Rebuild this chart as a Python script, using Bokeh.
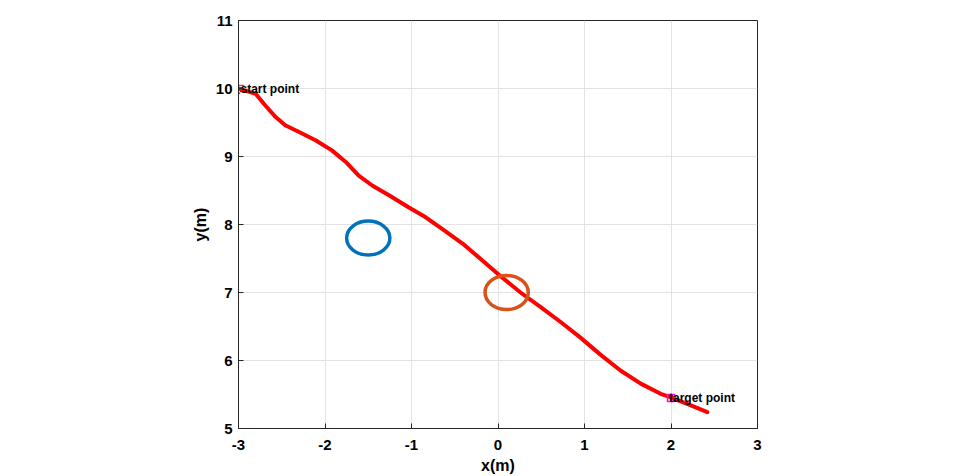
from bokeh.plotting import figure
from bokeh.models import Range1d, FixedTicker
from bokeh.core.properties import value
from bokeh.embed import file_html
from bokeh.resources import INLINE

# trajectory
path_x = [-3.00, -2.80, -2.69, -2.57, -2.46, -2.30, -2.11, -1.92, -1.76, -1.61, -1.45,
          -1.26, -1.03, -0.84, -0.65, -0.41, -0.16, 0.03, 0.26, 0.49, 0.72, 0.95,
          1.18, 1.42, 1.65, 1.88, 1.99, 2.23, 2.42]
path_y = [10.00, 9.92, 9.75, 9.58, 9.46, 9.36, 9.24, 9.09, 8.92, 8.72, 8.57,
          8.43, 8.25, 8.11, 7.94, 7.72, 7.45, 7.24, 7.00, 6.79, 6.57, 6.34,
          6.09, 5.85, 5.66, 5.51, 5.46, 5.34, 5.24]

# obstacles
obs_x = [-1.5, 0.1]
obs_y = [7.8, 7.0]
obs_r = [0.25, 0.25]
obs_colors = ["#0072BD", "#D95319"]

start = (-3.0, 10.0)
target = (2.0, 5.45)
start_label = "start point"
target_label = "target point"

x_ticks = [-3, -2, -1, 0, 1, 2, 3]
y_ticks = [5, 6, 7, 8, 9, 10, 11]

p = figure(width=955, height=476, output_backend="svg", toolbar_location=None,
           x_range=Range1d(-3, 3), y_range=Range1d(5, 11),
           min_border_left=238, min_border_right=198, min_border_top=20,
           min_border_bottom=48)

p.outline_line_color = "#262626"
p.outline_line_width = 1
p.background_fill_color = "white"
p.border_fill_color = "white"

for ax in (p.xaxis[0], p.yaxis[0]):
    ax.major_label_text_font = "Liberation Sans"
    ax.major_label_text_font_style = "bold"
    ax.major_label_text_font_size = "15px"
    ax.major_label_text_color = "black"
    ax.axis_label_text_font = "Liberation Sans"
    ax.axis_label_text_font_style = "bold"
    ax.axis_label_text_font_size = "16px"
    ax.axis_label_text_color = "black"
    ax.major_tick_in = 5
    ax.major_tick_out = 0
    ax.minor_tick_line_color = None
    ax.axis_line_color = "#262626"
    ax.major_tick_line_color = "#262626"

p.xaxis[0].ticker = FixedTicker(ticks=x_ticks)
p.yaxis[0].ticker = FixedTicker(ticks=y_ticks)
p.xaxis[0].major_label_overrides = {t: str(t) for t in x_ticks}
p.yaxis[0].major_label_overrides = {t: str(t) for t in y_ticks}
p.xaxis[0].major_label_standoff = 11
p.yaxis[0].major_label_standoff = 6
p.xaxis[0].axis_label_standoff = 4
p.yaxis[0].axis_label_standoff = 4
p.xaxis.axis_label = "x(m)"
p.yaxis.axis_label = "y(m)"

p.grid.grid_line_color = "#e3e3e3"
p.grid.grid_line_width = 1

p.line(path_x, path_y, line_color="#ff0000", line_width=4, line_join="round",
       line_cap="round")

p.ellipse(x=obs_x, y=obs_y, width=[2 * r for r in obs_r], height=[2 * r for r in obs_r],
          fill_color=None, line_color=obs_colors, line_width=3.5)

p.scatter([start[0]], [start[1]], marker="inverted_triangle", size=11,
          fill_color=None, line_color="#ff0000", line_width=1)
p.scatter([target[0]], [target[1]], marker="square", size=7,
          fill_color=None, line_color="#ff00ff", line_width=1.5)

p.text([start[0]], [start[1]], text=[start_label], text_font=value("Liberation Sans"),
       text_font_style="bold", text_font_size="12px", text_color="black",
       text_baseline="middle", text_align="left", x_offset=2)
p.text([target[0]], [target[1]], text=[target_label], text_font=value("Liberation Sans"),
       text_font_style="bold", text_font_size="12px", text_color="black",
       text_baseline="middle", text_align="left", x_offset=-2)

open("out.html", "w").write(file_html(p, INLINE))
